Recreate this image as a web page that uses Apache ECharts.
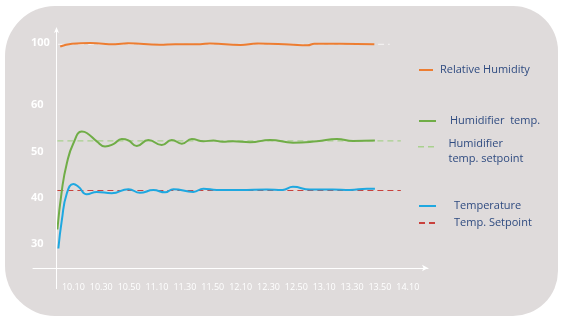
<!DOCTYPE html>
<html>
<head>
<meta charset="utf-8">
<script src="https://cdn.jsdelivr.net/npm/echarts@6/dist/echarts.min.js"></script>
<style>
  html, body { margin: 0; padding: 0; background: #ffffff; }
  #chart { width: 566px; height: 323px; }
</style>
</head>
<body>
<div id="chart"></div>
<script>
// Time is expressed in minutes after 10:00.
const xTickMinutes = [10, 30, 50, 70, 90, 110, 130, 150, 170, 190, 210, 230, 250];
const xTickLabels = ['10.10', '10.30', '10.50', '11.10', '11.30', '11.50', '12.10',
                     '12.30', '12.50', '13.10', '13.30', '13.50', '14.10'];
const yTickValues = [30, 40, 50, 60, 100];

// Relative humidity (%)
const relHumidity = [
  [0.5, 99.2], [9, 99.8], [22, 99.93], [40, 99.7], [49, 99.9], [72, 99.6], [83, 99.7],
  [101, 99.7], [108, 99.85], [130, 99.5], [142, 99.85], [165, 99.65], [178, 99.45],
  [183, 99.8], [201, 99.8], [226, 99.7]
];
const relHumiditySetpoint = [[-1, 99.65], [237, 99.65]];

// Humidifier temperature (°C)
const humidifierTemp = [
  [-1.5, 33.2], [1.7, 41.6], [5.3, 47.5], [10, 51.8], [16, 54.3], [19.6, 54.0],
  [26.8, 52.2], [32.7, 51.1], [38.7, 51.6], [44.7, 52.7], [49.5, 52.4], [55.5, 51.2],
  [63.8, 52.5], [73.4, 51.4], [80.6, 52.5], [87.8, 51.7], [95, 52.7], [103.3, 52.2],
  [110.4, 52.4], [117, 52.1], [124.6, 52.2], [136.8, 52.0], [151.1, 52.5],
  [167.6, 51.9], [184.8, 52.2], [199.2, 52.7], [210.7, 52.3], [226.4, 52.4]
];
const humidifierSetpoint = [[-1.5, 52.3], [245, 52.3]];

// Air temperature (°C)
const temperature = [
  [-0.8, 29.1], [1.7, 35.2], [5.3, 41.0], [10, 43.0], [13.6, 42.4], [19.6, 40.8],
  [26.8, 41.3], [37.5, 41.0], [49.5, 41.9], [57.8, 41.1], [67.4, 41.7], [75.8, 41.2],
  [81.7, 41.9], [96.1, 41.3], [103.3, 42.0], [112.9, 41.7], [129.6, 41.7],
  [148.9, 41.8], [160, 41.7], [167.6, 42.4], [179.8, 41.8], [196.3, 41.8],
  [208.5, 41.7], [220.7, 42.0], [226.4, 42.0]
];
const temperatureSetpoint = [[-1.5, 41.6], [245, 41.6]];

// time at which the vertical axis line crosses the time axis
const yAxisLineAt = -2.41;

const chart = echarts.init(document.getElementById('chart'), null, { renderer: 'canvas' });

const legendText = { color: '#2f4b80', fontSize: 11, fontFamily: 'Open Sans', lineHeight: 15 };

function legendAt(name, left, top, gapLeft, itemWidth, extra) {
  return Object.assign({
    data: [name],
    left: left, top: top, padding: 0,
    orient: 'vertical',
    itemWidth: itemWidth, itemHeight: 10,
    selectedMode: false,
    itemStyle: { opacity: 0 },
    textStyle: Object.assign({ padding: [0, 0, 0, gapLeft] }, legendText)
  }, extra || {});
}

const whiteAxisLine = { color: '#ffffff', width: 1 };
const gridBox = { left: 33, right: 138, top: 27, bottom: 34 };
const chartHeight = 323;

const option = {
  animation: false,
  graphic: [{
    id: 'panel', type: 'rect', z: -10, silent: true,
    shape: { x: 5, y: 6, width: 553, height: 310, r: [50, 45, 45, 50] },
    style: { fill: '#dfdbdb' }
  }],
  grid: gridBox,
  legend: [
    legendAt('Relative Humidity', 418, 62.5, 2, 14),
    legendAt('Humidifier  temp.', 418, 113.5, 9, 17),
    legendAt('Humidifier\ntemp. setpoint', 418, 136.5, 9, 17, {
      itemHeight: 11,
      // two dashes drawn along the top of the icon box, beside the first text line
      icon: 'path://M0,0h6v1.4h-6zM10,0h6v1.4h-6zM0,11h0.01v0.01h-0.01z',
      itemStyle: { color: '#a9d18e' }
    }),
    legendAt('Temperature', 418, 198.5, 13, 17),
    legendAt('Temp. Setpoint', 418, 215.5, 13, 17)
  ],
  xAxis: {
    type: 'value', min: -19, max: 264.5, offset: -21,
    splitLine: { show: false },
    axisTick: { show: false },
    axisLine: { show: true, onZero: false, symbol: ['none', 'arrow'], symbolSize: [5, 6],
                lineStyle: whiteAxisLine },
    axisLabel: {
      customValues: xTickMinutes, margin: 15,
      color: '#ffffff', fontSize: 9, fontFamily: 'Open Sans',
      formatter: v => xTickLabels[xTickMinutes.indexOf(v)]
    }
  },
  yAxis: {
    // value scale, compressed between 61 and 98
    type: 'value', min: 20.37, max: 103.4, offset: -23,
    breaks: [{ start: 61, end: 98, gap: 10.45 }],
    breakArea: { show: false },
    splitLine: { show: false },
    axisTick: { show: false },
    axisLine: { show: false },
    axisLabel: {
      customValues: yTickValues, align: 'left', margin: 25,
      color: '#ffffff', fontSize: 11, fontWeight: 'bold', fontFamily: 'Open Sans'
    }
  },
  series: [
    { name: 'RH setpoint', type: 'line', data: relHumiditySetpoint, symbol: 'none',
      lineStyle: { color: '#f2f0f0', width: 1.2, type: [6, 4] }, z: 1 },
    { name: 'Relative Humidity', type: 'line', data: relHumidity, symbol: 'none', smooth: 0.5,
      itemStyle: { color: '#ed7d31' }, lineStyle: { color: '#ed7d31', width: 2 } },
    { name: 'Humidifier  temp.', type: 'line', data: humidifierTemp, symbol: 'none', smooth: 0.5,
      itemStyle: { color: '#70ad47' }, lineStyle: { color: '#70ad47', width: 2 } },
    { name: 'Humidifier\ntemp. setpoint', type: 'line', data: humidifierSetpoint, symbol: 'none',
      itemStyle: { color: '#a9d18e' }, lineStyle: { color: '#a9d18e', width: 1.3, type: [6, 4] }, z: 1 },
    { name: 'Temperature', type: 'line', data: temperature, symbol: 'none', smooth: 0.5,
      itemStyle: { color: '#1fa8e0' }, lineStyle: { color: '#1fa8e0', width: 2 } },
    { name: 'Temp. Setpoint', type: 'line', data: temperatureSetpoint, symbol: 'none',
      itemStyle: { color: '#c9413c' }, lineStyle: { color: '#c9413c', width: 1.2, type: [6, 4] }, z: 1 }
  ]
};

chart.setOption(option);

// Continuous vertical axis line with arrow head, spanning the full grid height
// (the value axis itself is broken between 61 and 98).
let ax = chart.convertToPixel({ xAxisIndex: 0 }, yAxisLineAt);
if (!isFinite(ax)) ax = 56;
ax = Math.round(ax) + 0.5;
const yTop = gridBox.top;
const yBottom = chartHeight - gridBox.bottom;
chart.setOption({
  graphic: [{
    id: 'panel', type: 'rect', z: -10, silent: true,
    shape: { x: 5, y: 6, width: 553, height: 310, r: [50, 45, 45, 50] },
    style: { fill: '#dfdbdb' }
  }, {
    id: 'yAxisLine', type: 'line', z: 50, silent: true,
    shape: { x1: ax, y1: yBottom, x2: ax, y2: yTop + 2 },
    style: { stroke: '#ffffff', lineWidth: 1 }
  }, {
    id: 'yAxisArrow', type: 'polygon', z: 50, silent: true,
    shape: { points: [[ax - 2.5, yTop + 6], [ax, yTop], [ax + 2.5, yTop + 6], [ax, yTop + 4.5]] },
    style: { fill: '#ffffff' }
  }]
});
</script>
</body>
</html>
